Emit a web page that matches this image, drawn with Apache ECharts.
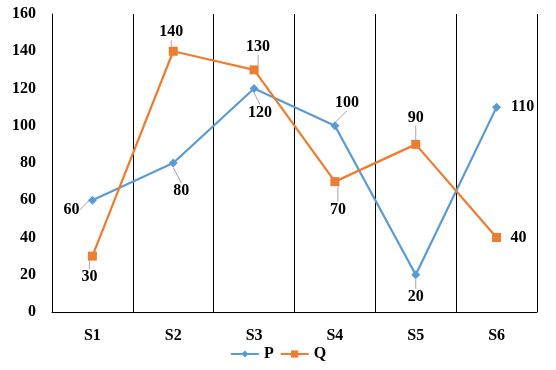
<!DOCTYPE html>
<html><head><meta charset="utf-8">
<script src="https://cdn.jsdelivr.net/npm/echarts@6/dist/echarts.min.js"></script>
<style>html,body{margin:0;padding:0;background:#fff}#c{width:556px;height:370px}</style>
</head><body><div id="c"></div>
<script>
const categories = ['S1','S2','S3','S4','S5','S6'];
const seriesP = [60, 80, 120, 100, 20, 110];
const seriesQ = [30, 140, 130, 70, 90, 40];
const yTicks = {min: 0, max: 160, interval: 20};

const offP = [[-21,10],[8,28],[6,24],[12,-23],[0,22],[26,0]];
const offQ = [[-3,21],[-2,-19],[4,-23],[3,28],[0,-27],[22,0]];
const noLeader = [5];

const font = {fontFamily: 'Liberation Serif', fontWeight: 'bold', fontSize: 16, color: '#000'};
const chart = echarts.init(document.getElementById('c'));
function mkSeries(name, data, color, symbol, size, off) {
  return {
    name, type: 'line', symbol, symbolSize: size,
    data: data.map((v, i) => noLeader.includes(i) ? {value: v, labelLine: {show: false}} : v),
    itemStyle: {color}, lineStyle: {color, width: 2.25},
    label: {show: true, position: 'inside', ...font},
    labelLine: {show: true, lineStyle: {color: '#A6A6A6', width: 1}, length2: 0},
    labelLayout: p => ({dx: off[p.dataIndex][0], dy: off[p.dataIndex][1]}),
    animation: false
  };
}
chart.setOption({
  animation: false,
  grid: {left: 52, right: 19, top: 14, bottom: 58},
  xAxis: {
    type: 'category', data: categories, boundaryGap: true,
    axisLine: {lineStyle: {color: '#000', width: 1}},
    axisTick: {show: false},
    splitLine: {show: true, lineStyle: {color: '#000', width: 1}},
    axisLabel: {...font, margin: 16}
  },
  yAxis: {
    type: 'value', min: yTicks.min, max: yTicks.max, interval: yTicks.interval,
    axisLine: {show: true, lineStyle: {color: '#000'}},
    axisTick: {show: false},
    splitLine: {show: false},
    axisLabel: {...font, margin: 16}
  },
  legend: {
    bottom: 3, left: 'center', itemWidth: 28, itemHeight: 9, itemGap: 6,
    textStyle: font, data: ['P','Q']
  },
  series: [
    mkSeries('P', seriesP, '#5B9BD5', 'diamond', 9, offP),
    mkSeries('Q', seriesQ, '#ED7D31', 'rect', 9, offQ)
  ]
});
</script></body></html>
